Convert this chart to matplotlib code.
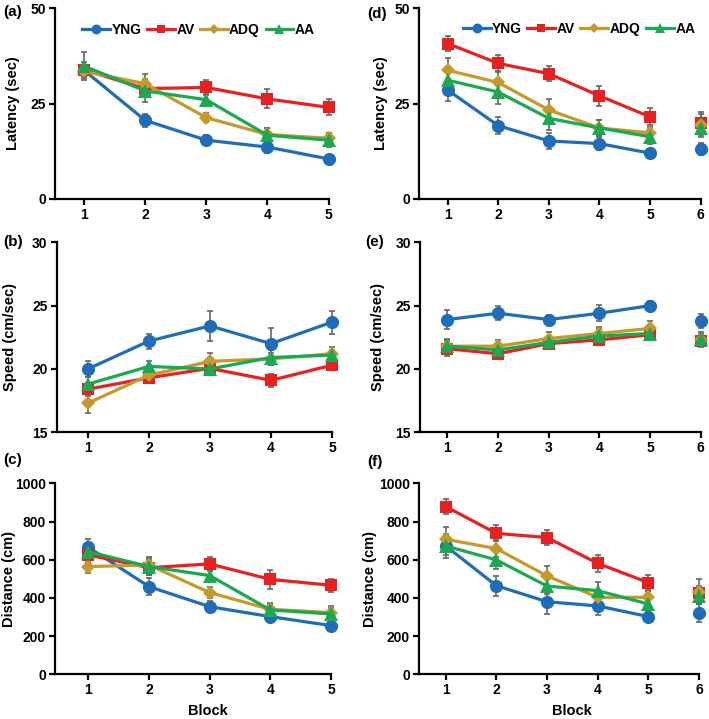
import matplotlib
matplotlib.use("Agg")
import matplotlib.pyplot as plt
import numpy as np

plt.rcParams['font.family'] = ['Liberation Sans', 'DejaVu Sans']
plt.rcParams['font.weight'] = 'bold'

groups = ["YNG", "AV", "ADQ", "AA"]
colors = {"YNG": "#1f6db8", "AV": "#e82020", "ADQ": "#c49a2a", "AA": "#1aa850"}
markers = {"YNG": "o", "AV": "s", "ADQ": "D", "AA": "^"}
msizes = {"YNG": 9.5, "AV": 8.5, "ADQ": 7, "AA": 9.5}

blocks_left = [1, 2, 3, 4, 5]
blocks_right = [1, 2, 3, 4, 5, 6]

# (a) Latency, left
lat_a = {"YNG": [33.7, 20.6, 15.4, 13.6, 10.5],
         "AV": [33.8, 28.9, 29.2, 26.2, 24.0],
         "ADQ": [33.4, 30.2, 21.3, 16.9, 15.9],
         "AA": [34.8, 28.3, 26.0, 16.7, 15.4]}
lat_a_err = {"YNG": [1.5, 1.7, 1.3, 1.6, 0.8],
             "AV": [2.0, 1.5, 1.9, 2.5, 2.1],
             "ADQ": [1.5, 2.5, 1.1, 1.7, 1.5],
             "AA": [3.7, 3.0, 1.6, 2.0, 1.8]}
# (d) Latency, right
lat_d = {"YNG": [28.5, 19.2, 15.2, 14.5, 12.0, 13.1],
         "AV": [40.7, 35.5, 32.8, 27.0, 21.5, 19.8],
         "ADQ": [33.7, 30.5, 23.3, 18.6, 17.3, 19.5],
         "AA": [31.1, 28.0, 21.1, 18.6, 16.3, 18.5]}
lat_d_err = {"YNG": [2.9, 2.2, 2.1, 1.8, 1.2, 1.6],
             "AV": [1.9, 2.1, 2.0, 2.6, 2.2, 2.5],
             "ADQ": [3.3, 2.8, 2.8, 2.2, 1.6, 3.3],
             "AA": [2.0, 3.0, 3.0, 2.2, 2.0, 1.8]}
# (b) Speed, left
spd_b = {"YNG": [20.0, 22.2, 23.4, 22.0, 23.7],
         "AV": [18.4, 19.3, 20.05, 19.1, 20.3],
         "ADQ": [17.3, 19.5, 20.6, 20.8, 21.2],
         "AA": [18.8, 20.2, 20.0, 20.9, 21.1]}
spd_b_err = {"YNG": [0.6, 0.6, 1.2, 1.2, 0.9],
             "AV": [0.5, 0.4, 0.5, 0.5, 0.4],
             "ADQ": [0.8, 0.5, 0.7, 0.5, 0.5],
             "AA": [0.6, 0.45, 0.5, 0.6, 0.4]}
# (e) Speed, right
spd_e = {"YNG": [23.9, 24.4, 23.9, 24.4, 25.0, 23.8],
         "AV": [21.6, 21.2, 22.0, 22.3, 22.7, 22.2],
         "ADQ": [21.8, 21.8, 22.4, 22.8, 23.2, 22.3],
         "AA": [21.8, 21.5, 22.1, 22.6, 22.8, 22.4]}
spd_e_err = {"YNG": [0.75, 0.55, 0.4, 0.65, 0.4, 0.55],
             "AV": [0.6, 0.4, 0.3, 0.3, 0.3, 0.4],
             "ADQ": [0.5, 0.5, 0.5, 0.5, 0.6, 0.6],
             "AA": [0.6, 0.5, 0.3, 0.55, 0.4, 0.4]}
# (c) Distance, left
dst_c = {"YNG": [665, 459, 354, 302, 255],
         "AV": [625, 558, 578, 497, 466],
         "ADQ": [564, 572, 428, 340, 323],
         "AA": [642, 564, 517, 337, 316]}
dst_c_err = {"YNG": [44, 44, 28, 30, 25],
             "AV": [35, 40, 38, 49, 33],
             "ADQ": [35, 44, 30, 30, 35],
             "AA": [40, 45, 30, 35, 30]}
# (f) Distance, right
dst_f = {"YNG": [672, 464, 380, 358, 302, 323],
         "AV": [878, 738, 716, 581, 480, 424],
         "ADQ": [707, 658, 515, 403, 403, 433],
         "AA": [672, 599, 462, 438, 368, 410]}
dst_f_err = {"YNG": [65, 52, 64, 47, 30, 47],
             "AV": [38, 42, 40, 44, 40, 40],
             "ADQ": [63, 45, 54, 40, 35, 65],
             "AA": [45, 50, 40, 44, 30, 40]}

W, H = 709, 719
fig = plt.figure(figsize=(W / 100, H / 100), dpi=100)


def add_axes(left, right, top, bottom):
    return fig.add_axes([left / W, 1 - bottom / H, (right - left) / W, (bottom - top) / H])


def style(ax, xlim, ylim, yticks, xticks, ylabel, ylab_x):
    ax.set_xlim(*xlim)
    ax.set_ylim(*ylim)
    ax.set_yticks(yticks)
    ax.set_xticks(xticks)
    for s in ("top", "right"):
        ax.spines[s].set_visible(False)
    for s in ("left", "bottom"):
        ax.spines[s].set_linewidth(1.6)
    ax.tick_params(direction="out", length=4, width=1.6, labelsize=10, pad=2.5)
    for lab in ax.get_xticklabels() + ax.get_yticklabels():
        lab.set_fontweight("bold")
    ax.set_ylabel(ylabel, fontsize=10.5, fontweight="bold")
    ax.yaxis.set_label_coords(ylab_x, 0.5)


def draw(ax, data, err, blocks, separate_last):
    for g in groups:
        y = np.array(data[g], dtype=float)
        e = np.array(err[g], dtype=float)
        x = np.array(blocks, dtype=float)
        ax.errorbar(x, y, yerr=e, fmt="none", ecolor="#666666", elinewidth=1.2,
                    capsize=2.5, capthick=1.2, zorder=2, clip_on=False)
    for i, g in enumerate(groups):
        y = np.array(data[g], dtype=float)
        x = np.array(blocks, dtype=float)
        n = len(x) - 1 if separate_last else len(x)
        ax.plot(x[:n], y[:n], color=colors[g], lw=2.3, marker=markers[g],
                ms=msizes[g], mew=0, zorder=3 + i, clip_on=False, label=g)
        if separate_last:
            ax.plot(x[n:], y[n:], color=colors[g], lw=0, marker=markers[g],
                    ms=msizes[g], mew=0, zorder=3 + i, clip_on=False)


# Left column
ax_a = add_axes(55, 328.5, 8, 199)
draw(ax_a, lat_a, lat_a_err, blocks_left, False)
style(ax_a, (0.525, 5.0), (0, 50), [0, 25, 50], blocks_left, "Latency (sec)", -0.128)

ax_b = add_axes(56.7, 332, 242.3, 432.3)
draw(ax_b, spd_b, spd_b_err, blocks_left, False)
style(ax_b, (0.49, 5.0), (15, 30), [15, 20, 25, 30], blocks_left, "Speed (cm/sec)", -0.144)

ax_c = add_axes(55, 331, 483.3, 674.3)
draw(ax_c, dst_c, dst_c_err, blocks_left, False)
style(ax_c, (0.45, 5.0), (0, 1000), [0, 200, 400, 600, 800, 1000], blocks_left, "Distance (cm)", -0.141)

# Right column
ax_d = add_axes(419, 700.7, 8, 199)
draw(ax_d, lat_d, lat_d_err, blocks_right, True)
style(ax_d, (0.433, 6.0), (0, 50), [0, 25, 50], blocks_right, "Latency (sec)", -0.110)

ax_e = add_axes(420, 700.7, 242.3, 432.3)
draw(ax_e, spd_e, spd_e_err, blocks_right, True)
style(ax_e, (0.46, 6.0), (15, 30), [15, 20, 25, 30], blocks_right, "Speed (cm/sec)", -0.125)

ax_f = add_axes(419, 699, 483.3, 674.3)
draw(ax_f, dst_f, dst_f_err, blocks_right, True)
style(ax_f, (0.473, 6.0), (0, 1000), [0, 200, 400, 600, 800, 1000], blocks_right, "Distance (cm)", -0.150)

# Legends
for ax, cx, cy in ((ax_a, 198.5, 30), (ax_d, 579, 29)):
    ax.legend(loc="center", bbox_to_anchor=(cx / W, 1 - cy / H), bbox_transform=fig.transFigure,
              ncol=4, frameon=False, handlelength=2.0, handletextpad=0.1, columnspacing=0.4,
              markerscale=0.75, prop={"weight": "bold", "size": 10}, borderpad=0)

# Panel labels
for lab, x, y in (("(a)", 13, 12), ("(b)", 13, 242), ("(c)", 13, 460),
                  ("(d)", 377, 14), ("(e)", 375, 242), ("(f)", 375, 462)):
    fig.text(x / W, 1 - y / H, lab, ha="center", va="center", fontsize=11, fontweight="bold")

# Block labels
fig.text(208 / W, 1 - 711 / H, "Block", ha="center", va="center", fontsize=10.5, fontweight="bold")
fig.text(572 / W, 1 - 711 / H, "Block", ha="center", va="center", fontsize=10.5, fontweight="bold")

fig.savefig("out.png", dpi=100)
